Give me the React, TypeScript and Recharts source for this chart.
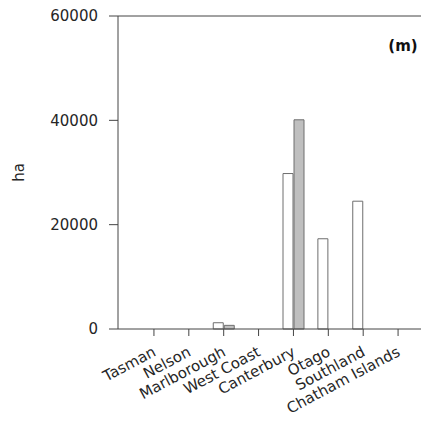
import { BarChart, Bar, XAxis, YAxis, Label, ReferenceLine } from 'recharts'

const regions = [
    'Tasman',
    'Nelson',
    'Marlborough',
    'West Coast',
    'Canterbury',
    'Otago',
    'Southland',
    'Chatham Islands',
]
const seriesA = [0, 0, 1200, 0, 29800, 17300, 24500, 0]
const seriesB = [0, 0, 700, 0, 40100, 0, 0, 0]
const yTicks = [0, 20000, 40000, 60000]

const data = regions.map((name, i) => ({ name, a: seriesA[i], b: seriesB[i] }))

const FONT = 'DejaVu Sans'
const TEXT = '#262626'
const AXIS = '#444'

const RegionTick = (props: any) => {
    const { x, y, payload } = props
    return (
        <g transform={`translate(${x + 3},${y + 17})`}>
            <text
                textAnchor='end'
                transform='rotate(-28)'
                fontFamily={FONT}
                fontSize={15}
                fill={TEXT}
            >
                {payload.value}
            </text>
        </g>
    )
}

export default function App() {
    return (
        <BarChart
            width={421}
            height={413}
            data={data}
            margin={{ top: 8, right: 0, left: 0, bottom: 0 }}
            barSize={10}
            barGap={1}
        >
            <XAxis
                dataKey='name'
                height={92}
                interval={0}
                padding={{ left: 18.5, right: 13.5 }}
                tickSize={7}
                tickMargin={2}
                stroke={AXIS}
                tick={<RegionTick />}
            />
            <YAxis
                width={110}
                domain={[0, 60000]}
                ticks={yTicks}
                interval={0}
                tickSize={9}
                tickMargin={11}
                stroke={AXIS}
                tick={{ fontFamily: FONT, fontSize: 15, fill: TEXT }}
            >
                <Label
                    content={({ viewBox }: any) => {
                        const cx = 11
                        const cy = viewBox.y + viewBox.height / 2
                        return (
                            <text
                                x={cx}
                                y={cy}
                                textAnchor='middle'
                                dominantBaseline='central'
                                transform={`rotate(-90, ${cx}, ${cy})`}
                                fontFamily={FONT}
                                fontSize={15}
                                fill={TEXT}
                            >
                                ha
                            </text>
                        )
                    }}
                />
            </YAxis>
            <ReferenceLine y={60000} stroke={AXIS} strokeWidth={1}>
                <Label
                    content={({ viewBox }: any) => (
                        <text
                            x={viewBox.x + viewBox.width - 26}
                            y={viewBox.y + 35}
                            textAnchor='middle'
                            fontFamily={FONT}
                            fontWeight='bold'
                            fontSize={15}
                            fill='#111'
                        >
                            (m)
                        </text>
                    )}
                />
            </ReferenceLine>
            <Bar
                dataKey='a'
                fill='#ffffff'
                stroke='#6e6e6e'
                strokeWidth={1}
                isAnimationActive={false}
            />
            <Bar
                dataKey='b'
                fill='#bfbfbf'
                stroke='#6e6e6e'
                strokeWidth={1}
                isAnimationActive={false}
            />
        </BarChart>
    )
}
